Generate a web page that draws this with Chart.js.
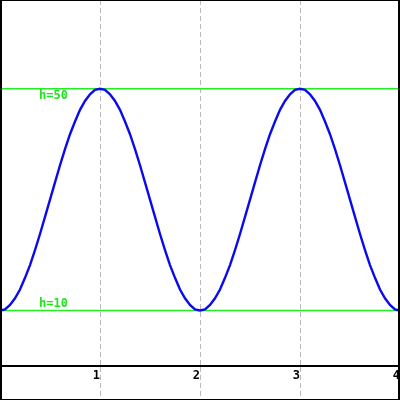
<!DOCTYPE html>
<html>
<head>
<meta charset="utf-8">
<script src="https://cdn.jsdelivr.net/npm/chart.js@4"></script>
<style>
  html, body { margin: 0; padding: 0; background: #fff; }
  #wrap { width: 400px; height: 400px; }
</style>
</head>
<body>
<div id="wrap"><canvas id="chart"></canvas></div>
<script>
/* --------------- Data --------------------- */
// x positions, step 0.05 from 0 to 4
const xValues = [
  0, 0.05, 0.1, 0.15, 0.2, 0.25, 0.3, 0.35, 0.4, 0.45, 0.5, 0.55, 0.6, 0.65, 0.7, 0.75, 0.8, 0.85, 0.9, 0.95,
  1, 1.05, 1.1, 1.15, 1.2, 1.25, 1.3, 1.35, 1.4, 1.45, 1.5, 1.55, 1.6, 1.65, 1.7, 1.75, 1.8, 1.85, 1.9, 1.95,
  2, 2.05, 2.1, 2.15, 2.2, 2.25, 2.3, 2.35, 2.4, 2.45, 2.5, 2.55, 2.6, 2.65, 2.7, 2.75, 2.8, 2.85, 2.9, 2.95,
  3, 3.05, 3.1, 3.15, 3.2, 3.25, 3.3, 3.35, 3.4, 3.45, 3.5, 3.55, 3.6, 3.65, 3.7, 3.75, 3.8, 3.85, 3.9, 3.95,
  4
];
// height
const heights = [
  10, 10.2, 11, 12.2, 13.8, 15.9, 18.2, 20.9, 23.8, 26.9, 30, 33.1, 36.2, 39.1, 41.8, 44.1, 46.2, 47.8, 49, 49.8,
  50, 49.8, 49, 47.8, 46.2, 44.1, 41.8, 39.1, 36.2, 33.1, 30, 26.9, 23.8, 20.9, 18.2, 15.9, 13.8, 12.2, 11, 10.2,
  10, 10.2, 11, 12.2, 13.8, 15.9, 18.2, 20.9, 23.8, 26.9, 30, 33.1, 36.2, 39.1, 41.8, 44.1, 46.2, 47.8, 49, 49.8,
  50, 49.8, 49, 47.8, 46.2, 44.1, 41.8, 39.1, 36.2, 33.1, 30, 26.9, 23.8, 20.9, 18.2, 15.9, 13.8, 12.2, 11, 10.2,
  10
];
const levels = [50, 10];
const levelLabels = ["h=50", "h=10"];
const xTicks = [1, 2, 3, 4];
const xMin = 0, xMax = 4, yMin = 0, yMax = 66;

/* --------------- Plugins --------------------- */
const levelText = {
  id: "levelText",
  afterDatasetsDraw(chart) {
    const { ctx, scales: { x, y } } = chart;
    ctx.save();
    ctx.font = 'bold 12px "DejaVu Sans Mono"';
    ctx.fillStyle = "#1ee61e";
    ctx.textAlign = "left";
    levels.forEach((lv, i) => {
      const py = y.getPixelForValue(lv);
      if (i === 0) {
        ctx.textBaseline = "top";
        ctx.fillText(levelLabels[i], x.getPixelForValue(0.39), py + 1);
      } else {
        ctx.textBaseline = "bottom";
        ctx.fillText(levelLabels[i], x.getPixelForValue(0.39), py - 1);
      }
    });
    ctx.restore();
  },
};

const frame = {
  id: "frame",
  afterDraw(chart) {
    const ctx = chart.ctx;
    ctx.save();
    ctx.fillStyle = "#000";
    ctx.fillRect(0, 0, 2, 400);
    ctx.fillRect(398, 0, 2, 400);
    ctx.fillRect(0, 0, 400, 1);
    ctx.fillRect(0, 399, 400, 1);
    ctx.restore();
  },
};

/* --------------- Chart --------------------- */
new Chart(document.getElementById("chart"), {
  type: "line",
  plugins: [levelText, frame],
  data: {
    datasets: [
      {
        data: xValues.map((v, i) => ({ x: v, y: heights[i] })),
        borderColor: "#0a0aee",
        borderWidth: 2.4,
        pointRadius: 0,
        tension: 0,
      },
      ...levels.map((lv) => ({
        data: [{ x: xMin, y: lv }, { x: xMax, y: lv }],
        borderColor: "#22ee22",
        borderWidth: 1.5,
        pointRadius: 0,
      })),
    ],
  },
  options: {
    responsive: true,
    maintainAspectRatio: false,
    animation: false,
    layout: { padding: 0 },
    plugins: { legend: { display: false }, tooltip: { enabled: false } },
    scales: {
      x: {
        type: "linear",
        min: xMin,
        max: xMax,
        afterBuildTicks: (s) => { s.ticks = xTicks.map((v) => ({ value: v })); },
        afterFit: (s) => { s.height = 34; },
        grid: {
          color: "#bbbbbb",
          lineWidth: 1,
          tickLength: 34,
          tickColor: "#bbbbbb",
          tickBorderDash: [5, 3],
        },
        border: { display: true, color: "#000", width: 2, dash: [5, 3] },
        ticks: {
          align: "end",
          padding: -31,
          color: "#000",
          font: { family: "DejaVu Sans Mono", size: 12, weight: "bold" },
          maxRotation: 0,
        },
      },
      y: {
        display: false,
        min: yMin,
        max: yMax,
      },
    },
  },
});
</script>
</body>
</html>
